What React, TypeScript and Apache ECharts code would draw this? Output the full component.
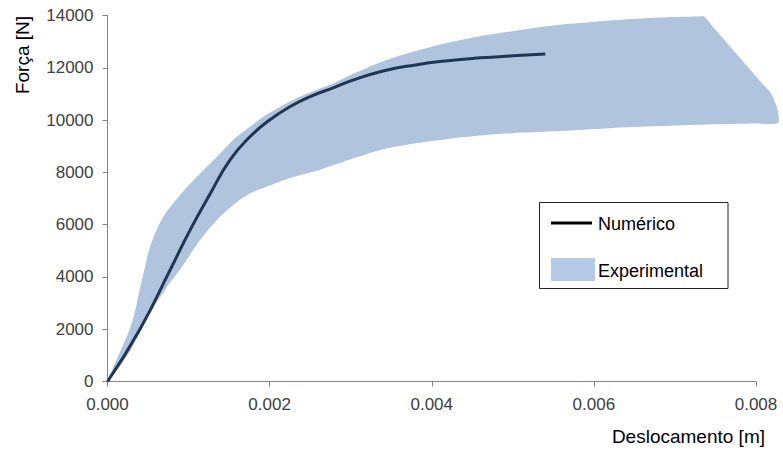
import React, { useEffect, useRef } from "react";
import * as echarts from "echarts";

// Experimental envelope – upper boundary (x [m], F [N])
const upperBound: number[][] = [
  [0, 0], [0.00015, 1100], [0.00028, 2050], [0.00034, 2700], [0.0004, 3550],
  [0.00046, 4350], [0.00052, 5100], [0.00062, 5900], [0.00073, 6500], [0.00094, 7300],
  [0.00114, 7950], [0.00135, 8600], [0.00155, 9240], [0.00176, 9750], [0.00196, 10200],
  [0.00217, 10580], [0.00238, 10900], [0.0026, 11180], [0.0028, 11420], [0.003, 11720],
  [0.0034, 12250], [0.0038, 12640], [0.0042, 12960], [0.0046, 13210], [0.005, 13400],
  [0.0053, 13540], [0.0057, 13680], [0.0063, 13830], [0.0069, 13930], [0.00728, 13958],
  [0.00736, 13960], [0.00745, 13640], [0.0081, 11320], [0.00819, 11000], [0.00827, 10350],
];

// Experimental envelope – lower boundary
const lowerBound: number[][] = [
  [0, 0], [0.00015, 550], [0.00032, 1400], [0.0005, 2500], [0.00073, 3600],
  [0.0009, 4300], [0.00114, 5400], [0.00135, 6180], [0.00155, 6750], [0.00176, 7200],
  [0.00196, 7450], [0.00217, 7700], [0.00238, 7900], [0.0026, 8080], [0.003, 8500],
  [0.0034, 8880], [0.0038, 9110], [0.0042, 9280], [0.0046, 9410], [0.005, 9500],
  [0.0055, 9570], [0.0062, 9690], [0.0068, 9770], [0.0074, 9830], [0.008, 9865],
  [0.00827, 9885],
];

// Numerical curve
const numerico: number[][] = [
  [0, 0], [0.0004, 2000], [0.00077, 4250], [0.00102, 5800], [0.00127, 7200],
  [0.00151, 8470], [0.00176, 9370], [0.002, 10000], [0.00225, 10510], [0.0025, 10900],
  [0.0028, 11250], [0.003, 11500], [0.0034, 11880], [0.0038, 12110], [0.0042, 12270],
  [0.0046, 12380], [0.005, 12460], [0.0054, 12530],
];

const xTicks = { min: 0, max: 0.008, interval: 0.002 };
const yTicks = { min: 0, max: 14000, interval: 2000 };

const FONT = "'Liberation Sans', Arial, sans-serif";

export default function App() {
  const ref = useRef<HTMLDivElement>(null);

  useEffect(() => {
    if (!ref.current) return;
    const chart = echarts.init(ref.current, undefined, { renderer: "svg" });
    const axisColor = "#868686";
    chart.setOption({
      animation: false,
      backgroundColor: "#ffffff",
      grid: { left: 107.5, right: 27, top: 15.5, bottom: 68.5, containLabel: false },
      xAxis: {
        type: "value",
        min: xTicks.min,
        max: xTicks.max,
        interval: xTicks.interval,
        axisLine: { show: true, lineStyle: { color: axisColor, width: 1 } },
        axisTick: { show: true, length: 5, lineStyle: { color: axisColor } },
        splitLine: { show: false },
        axisLabel: {
          margin: 14,
          color: "#404040",
          fontSize: 17,
          fontFamily: FONT,
          formatter: (v: number) => v.toFixed(3),
        },
      },
      yAxis: {
        type: "value",
        min: yTicks.min,
        max: yTicks.max,
        interval: yTicks.interval,
        axisLine: { show: true, lineStyle: { color: axisColor, width: 1 } },
        axisTick: { show: true, length: 5, lineStyle: { color: axisColor } },
        splitLine: { show: false },
        axisLabel: {
          margin: 14,
          color: "#404040",
          fontSize: 17,
          fontFamily: FONT,
          formatter: (v: number) => String(v),
        },
      },
      series: [
        {
          type: "custom",
          name: "Experimental",
          clip: false,
          data: [[0, 0]],
          encode: { x: 0, y: 1 },
          renderItem: (params: any, api: any) => {
            if (params.dataIndex !== 0) return null;
            const pts = [
              ...upperBound.map((p) => api.coord(p)),
              ...lowerBound.slice(1).reverse().map((p) => api.coord(p)),
            ];
            return {
              type: "polygon",
              shape: { points: pts, smooth: 0.25 },
              style: { fill: "#B0C4DE", stroke: "none" },
            };
          },
          z: 1,
        },
        {
          type: "line",
          name: "Numérico",
          data: numerico,
          smooth: 0.5,
          showSymbol: false,
          symbol: "none",
          lineStyle: { color: "#1F3552", width: 3 },
          z: 3,
        },
      ],
      graphic: [
        {
          type: "text",
          x: 22,
          y: 55,
          rotation: Math.PI / 2,
          style: {
            text: "Força [N]",
            fill: "#000",
            font: `19px ${FONT}`,
            align: "center",
            verticalAlign: "middle",
          },
        },
        {
          type: "text",
          x: 765,
          y: 436,
          style: {
            text: "Deslocamento [m]",
            fill: "#000",
            font: `19px ${FONT}`,
            align: "right",
            verticalAlign: "middle",
          },
        },
        {
          type: "rect",
          shape: { x: 539.5, y: 202.5, width: 188.5, height: 86 },
          style: { fill: "#fff", stroke: "#222", lineWidth: 1 },
          z: 10,
        },
        {
          type: "line",
          shape: { x1: 551, y1: 223, x2: 592, y2: 223 },
          style: { stroke: "#000", lineWidth: 3 },
          z: 11,
        },
        {
          type: "text",
          x: 598,
          y: 224,
          style: {
            text: "Numérico",
            fill: "#000",
            font: `18px ${FONT}`,
            align: "left",
            verticalAlign: "middle",
          },
          z: 11,
        },
        {
          type: "rect",
          shape: { x: 551, y: 258, width: 44, height: 23 },
          style: { fill: "#B4CAE6", stroke: "none" },
          z: 11,
        },
        {
          type: "text",
          x: 598,
          y: 271,
          style: {
            text: "Experimental",
            fill: "#000",
            font: `18px ${FONT}`,
            align: "left",
            verticalAlign: "middle",
          },
          z: 11,
        },
      ],
    });
    return () => chart.dispose();
  }, []);

  return (
    <div
      ref={ref}
      style={{ position: "fixed", left: 0, top: 0, width: 783, height: 450, background: "#fff" }}
    />
  );
}
